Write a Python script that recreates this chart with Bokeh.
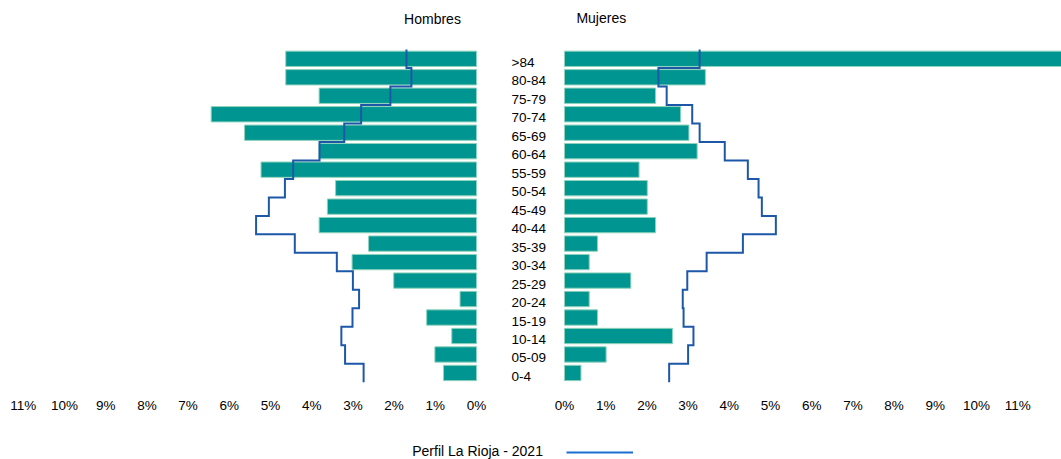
import numpy as np
from bokeh.plotting import figure
from bokeh.layouts import column
from bokeh.models import (Range1d, FixedTicker, CustomJSTickFormatter, Label,
                          Legend, LegendItem, ColumnDataSource)
from bokeh.core.properties import value
from bokeh.embed import file_html
from bokeh.resources import INLINE

# ---------------- data ----------------
ages = ["0-4", "05-09", "10-14", "15-19", "20-24", "25-29", "30-34", "35-39",
        "40-44", "45-49", "50-54", "55-59", "60-64", "65-69", "70-74", "75-79",
        "80-84", ">84"]
hombres = [0.80, 1.01, 0.60, 1.21, 0.40, 2.01, 3.02, 2.62, 3.82, 3.62, 3.42,
           5.23, 3.82, 5.63, 6.44, 3.82, 4.63, 4.63]
mujeres = [0.40, 1.01, 2.62, 0.80, 0.60, 1.61, 0.60, 0.80, 2.21, 2.01, 2.01,
           1.81, 3.22, 3.02, 2.82, 2.21, 3.42, 12.40]
perfil_hombres = [2.74, 3.19, 3.28, 3.01, 2.85, 3.00, 3.39, 4.41, 5.35, 5.04,
                  4.65, 4.45, 3.81, 3.21, 2.80, 2.09, 1.58, 1.70]
perfil_mujeres = [2.54, 3.00, 3.13, 2.89, 2.87, 2.98, 3.45, 4.33, 5.13, 4.79,
                  4.71, 4.45, 3.89, 3.28, 3.10, 2.48, 2.28, 3.28]
tick_values = list(range(12))
title_hombres = "Hombres"
title_mujeres = "Mujeres"
legend_label = "Perfil La Rioja - 2021"

# ---------------- layout constants (page pixels) ----------------
W = 1061
H_MAIN, H_LEG = 430, 29
K = 41.2            # px per percent
ZERO_M = 564        # px of 0% (Mujeres)
ZERO_H = 476        # px of 0% (Hombres)
FRAME_BOTTOM = 392
ROW_TOP = 58.3      # y of the top row centre
ROW_STEP = 18.48
G = (ZERO_M - ZERO_H) / K

BAR = "#009590"
EDGE = "#8fd3bb"
LINE = "#1d58a8"
LEGEND_LINE = "#1b6fd1"
FONT_NAME = "Liberation Sans"

n = len(ages)
y_end = (n - 1) + ROW_TOP / ROW_STEP
y_start = y_end - FRAME_BOTTOM / ROW_STEP

p = figure(width=W, height=H_MAIN,
           x_range=Range1d(-ZERO_M / K, (W - ZERO_M) / K),
           y_range=Range1d(y_start, y_end),
           output_backend="svg", toolbar_location=None,
           y_axis_location=None,
           min_border_left=0, min_border_right=0, min_border_top=0,
           min_border_bottom=H_MAIN - FRAME_BOTTOM)
p.extra_x_ranges = {"h": Range1d(ZERO_H / K, -(W - ZERO_H) / K)}
p.outline_line_color = None
p.xgrid.grid_line_color = None
p.ygrid.grid_line_color = None
p.background_fill_color = "white"
p.border_fill_color = "white"

rows = list(range(n))
src = ColumnDataSource(dict(row=rows, age=ages, h=hombres, m=mujeres))

p.hbar(y="row", left=0, right="h", height=0.83, source=src, x_range_name="h",
       fill_color=BAR, line_color=EDGE, line_width=1)
p.hbar(y="row", left=0, right="m", height=0.83, source=src,
       fill_color=BAR, line_color=EDGE, line_width=1)


def step_path(vals):
    xs, ys = [], []
    for r in reversed(range(len(vals))):
        xs += [vals[r], vals[r]]
        ys += [r + 0.5, r - 0.5]
    return xs, ys


hx, hy = step_path(perfil_hombres)
mx, my = step_path(perfil_mujeres)
p.line(hx, hy, x_range_name="h", line_color=LINE, line_width=2, line_join="miter")
p.line(mx, my, line_color=LINE, line_width=2, line_join="miter")

# age labels in the centre
label_x = (511 - ZERO_M) / K
p.text(x=label_x, y="row", text="age", source=src, text_font=value(FONT_NAME),
       text_font_size="13.5px", text_color="black", text_align="left",
       text_baseline="middle", y_offset=3.5)

# titles
p.add_layout(Label(x=(ZERO_H - 432) / K, y=y_end - 18 / ROW_STEP, x_range_name="h",
                   text=title_hombres, text_font=FONT_NAME, text_font_size="14px",
                   text_align="center", text_baseline="middle", text_color="black"))
p.add_layout(Label(x=(600.8 - ZERO_M) / K, y=y_end - 17 / ROW_STEP,
                   text=title_mujeres, text_font=FONT_NAME, text_font_size="14px",
                   text_align="center", text_baseline="middle", text_color="black"))

# x axis with both halves
ax = p.xaxis[0]
ticks = [float(t) for t in tick_values] + [-G - t for t in tick_values]
ax.ticker = FixedTicker(ticks=ticks, minor_ticks=[])
ax.formatter = CustomJSTickFormatter(
    args=dict(g=G),
    code="const v = tick < -g/2 ? -tick - g : tick; return Math.round(v) + '%';")
ax.axis_line_color = None
ax.major_tick_line_color = None
ax.minor_tick_line_color = None
ax.major_tick_out = 0
ax.major_tick_in = 0
ax.major_label_standoff = 5
ax.major_label_text_font = FONT_NAME
ax.major_label_text_font_size = "13.5px"
ax.major_label_text_color = "black"

# ---------------- legend strip ----------------
q = figure(width=W, height=H_LEG, x_range=Range1d(0, W), y_range=Range1d(0, H_LEG),
           output_backend="svg", toolbar_location=None,
           x_axis_location=None, y_axis_location=None,
           min_border=0)
q.outline_line_color = None
q.xgrid.grid_line_color = None
q.ygrid.grid_line_color = None
legend_src = ColumnDataSource(dict(x=np.array([np.nan]), y=np.array([np.nan])))
legend_line = q.line(x="x", y="y", source=legend_src, line_color=LEGEND_LINE, line_width=2)
q.add_layout(Label(x=411.7, y=H_LEG - 20, x_units="screen", y_units="screen",
                   text=legend_label, text_font=FONT_NAME, text_font_size="14px",
                   text_align="left", text_baseline="middle", text_color="black"))
leg = Legend(items=[LegendItem(label=" ", renderers=[legend_line])],
             location=(566, H_LEG - 21.7 - 5), orientation="horizontal",
             glyph_width=67, glyph_height=10, label_width=1, label_height=10,
             label_text_font_size="8px",
             label_standoff=0, padding=0, margin=0, spacing=0,
             border_line_color=None, background_fill_alpha=0)
q.add_layout(leg)

open("out.html", "w").write(file_html(column(p, q), INLINE))
